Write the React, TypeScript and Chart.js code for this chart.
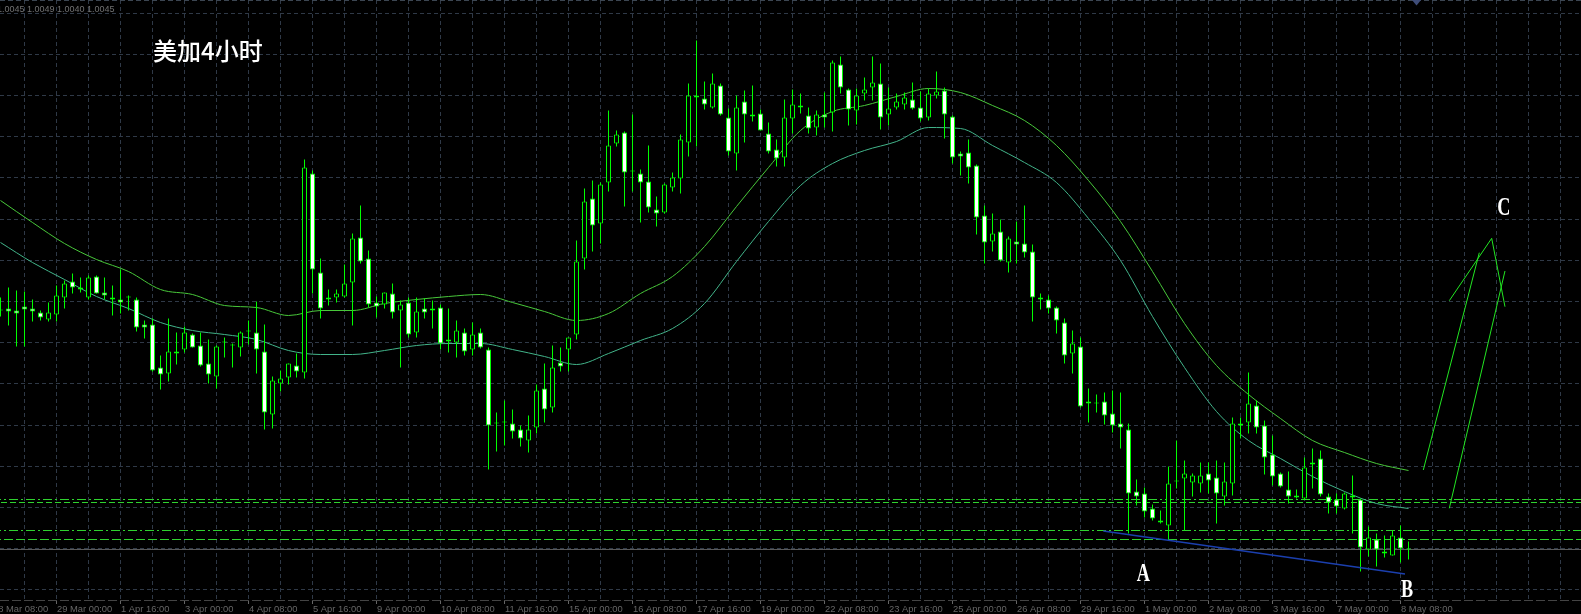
import React, { useEffect, useRef } from "react";
import { Chart, registerables } from "chart.js";

Chart.register(...registerables);

// ---------- DATA (USDCAD 4H) ----------
const openP = [
  1.01645,1.01655,1.01645,1.01665,1.01655,1.01635,1.016,1.01625,1.0171,1.0179,
  1.0176,1.0171,1.01815,1.01735,1.0171,1.017,1.0171,1.017,1.01575,1.01575,
  1.0136,1.0133,1.0144,1.0145,1.01525,1.0147,1.0138,1.01315,1.01485,1.0147,
  1.0146,1.01545,1.01535,1.0144,1.01125,1.0128,1.0131,1.0137,1.01335,1.0233,
  1.01835,1.0171,1.0171,1.01715,1.01785,1.0201,1.01905,1.01685,1.01675,1.0173,
  1.01645,1.01685,1.01535,1.01655,1.01655,1.0166,1.015,1.01485,1.01535,1.0145,
  1.01535,1.0145,1.0108,1.01085,1.0108,1.0105,1.00995,1.0106,1.01255,1.0116,
  1.01385,1.0145,1.01525,1.01905,1.02205,1.0208,1.02285,1.0248,1.02535,1.0234,
  1.0233,1.0229,1.0215,1.02135,1.0226,1.02305,1.02485,1.0272,1.02705,1.0266,
  1.0277,1.0261,1.0243,1.0269,1.02625,1.0263,1.0253,1.0245,1.0241,1.02605,
  1.0267,1.0262,1.0256,1.02625,1.02635,1.02875,1.0275,1.02645,1.0273,1.0276,
  1.0278,1.02625,1.0266,1.02675,1.027,1.0266,1.0261,1.0272,1.02745,1.02615,
  1.0243,1.02435,1.0237,1.0212,1.0199,1.0204,1.01885,1.0199,1.0198,1.0194,
  1.0171,1.017,1.0166,1.01585,1.0143,1.01465,1.0119,1.0118,1.0119,1.0113,
  1.0108,1.0105,1.0074,1.0073,1.00655,1.00595,1.0057,1.0079,1.00805,1.00785,
  1.0078,1.0083,1.0081,1.00715,1.0078,1.0108,1.01085,1.0117,1.0107,1.00925,
  1.0083,1.0075,1.0072,1.00705,1.00885,1.00905,1.00715,1.007,1.00655,1.0072,
  1.007,1.0045,1.005,1.0044,1.0042,1.0051,1.0045,
];
const highP = [
  1.0171,1.0176,1.01745,1.0174,1.017,1.01645,1.01685,1.0177,1.01795,1.0183,
  1.0181,1.0182,1.0182,1.0181,1.0177,1.0185,1.0172,1.0171,1.01595,1.01605,
  1.0142,1.01605,1.01535,1.01565,1.0153,1.01535,1.015,1.0147,1.0151,1.0148,
  1.0154,1.01595,1.0169,1.01575,1.01315,1.01345,1.0138,1.0143,1.024,1.02345,
  1.01905,1.0175,1.0175,1.01875,1.0203,1.0217,1.01945,1.01715,1.01735,1.0178,
  1.01695,1.0171,1.0171,1.01705,1.01695,1.01675,1.01655,1.01595,1.01555,1.01585,
  1.01555,1.0146,1.01135,1.01195,1.0115,1.0107,1.0112,1.01275,1.0138,1.0147,
  1.0146,1.0151,1.01995,1.02255,1.02295,1.02285,1.02645,1.02545,1.0254,1.02625,
  1.0235,1.0247,1.02215,1.0228,1.02335,1.02525,1.0278,1.02995,1.0279,1.0283,
  1.0278,1.02655,1.0272,1.02745,1.0277,1.0265,1.02585,1.025,1.027,1.0275,
  1.0273,1.0266,1.02645,1.02735,1.02895,1.02915,1.02755,1.02755,1.0281,1.02915,
  1.0288,1.0276,1.0273,1.02735,1.02785,1.0274,1.02755,1.0284,1.0276,1.0262,
  1.0244,1.025,1.02375,1.0217,1.0213,1.021,1.02015,1.0209,1.0217,1.01975,
  1.0173,1.0172,1.01665,1.01605,1.01545,1.0151,1.01255,1.01225,1.01235,1.01245,
  1.01235,1.0108,1.008,1.0076,1.00675,1.00645,1.00865,1.00995,1.00895,1.0083,
  1.00885,1.00885,1.00895,1.00885,1.0111,1.0111,1.01335,1.01195,1.01095,1.0102,
  1.00835,1.0084,1.0075,1.0091,1.00955,1.00945,1.0073,1.0073,1.00735,1.0082,
  1.00705,1.00565,1.0053,1.0052,1.00545,1.0057,1.0049,
];
const lowP = [
  1.01615,1.0157,1.01465,1.01465,1.0159,1.01595,1.0159,1.0159,1.01655,1.0173,
  1.01735,1.017,1.0173,1.017,1.0162,1.0163,1.01645,1.0154,1.01505,1.0134,
  1.0125,1.0129,1.01375,1.01435,1.0146,1.01365,1.0128,1.01255,1.0141,1.0136,
  1.01415,1.01475,1.0133,1.0105,1.01055,1.0124,1.01275,1.0131,1.01305,1.0173,
  1.01605,1.0167,1.01685,1.0171,1.0157,1.0188,1.0166,1.0161,1.01655,1.01605,
  1.0136,1.0151,1.0151,1.01605,1.01555,1.0145,1.01435,1.0141,1.0142,1.0142,
  1.01455,1.0085,1.0094,1.0097,1.01005,1.00965,1.00935,1.0103,1.01085,1.01135,
  1.0134,1.0134,1.015,1.0185,1.0194,1.0198,1.0224,1.02465,1.02165,1.0224,
  1.02085,1.02135,1.02065,1.0213,1.0224,1.0223,1.02415,1.02465,1.0265,1.02655,
  1.0262,1.0242,1.02345,1.02485,1.0259,1.02545,1.0243,1.02365,1.02365,1.0253,
  1.0263,1.0253,1.0252,1.0256,1.0254,1.0273,1.0257,1.02575,1.02695,1.02695,
  1.0255,1.0257,1.0265,1.0265,1.0265,1.0259,1.02595,1.02705,1.02505,1.0238,
  1.0232,1.0228,1.02025,1.0188,1.0194,1.0189,1.01835,1.0188,1.0191,1.0159,
  1.0165,1.0163,1.0153,1.0138,1.0133,1.0116,1.01085,1.01135,1.01075,1.01035,
  1.00955,1.0053,1.0067,1.0061,1.00595,1.0058,1.00495,1.00755,1.00545,1.00715,
  1.00735,1.0073,1.0058,1.0067,1.0072,1.01005,1.0103,1.0103,1.00825,1.0077,
  1.0076,1.0068,1.00705,1.007,1.00755,1.00715,1.0063,1.0063,1.0065,1.0053,
  1.0034,1.00415,1.00365,1.0041,1.0042,1.00385,1.004,
];
const closeP = [
  1.01645,1.0164,1.0163,1.0165,1.0164,1.0161,1.01635,1.0172,1.0178,1.0176,
  1.0175,1.0181,1.0173,1.0172,1.017,1.01685,1.0171,1.0156,1.0156,1.01345,
  1.01325,1.0144,1.0143,1.01535,1.0146,1.0137,1.01325,1.01465,1.01485,1.0147,
  1.01535,1.0154,1.0145,1.01135,1.01295,1.01305,1.0138,1.0134,1.0236,1.0185,
  1.01655,1.017,1.0173,1.0178,1.02005,1.0189,1.01675,1.01665,1.01735,1.01635,
  1.01675,1.01525,1.0164,1.01635,1.01645,1.0148,1.0149,1.01545,1.0144,1.01525,
  1.0146,1.0107,1.0108,1.01085,1.0104,1.01005,1.0105,1.01245,1.0115,1.0136,
  1.01365,1.0151,1.0189,1.0219,1.0207,1.02275,1.0247,1.02525,1.02335,1.0234,
  1.02285,1.0216,1.0213,1.02275,1.0231,1.025,1.0272,1.0271,1.02675,1.0278,
  1.02625,1.0244,1.0266,1.02625,1.02615,1.02545,1.0244,1.02405,1.0261,1.02675,
  1.0266,1.02555,1.02625,1.0261,1.02885,1.0276,1.0265,1.0272,1.0275,1.02785,
  1.0261,1.02655,1.0269,1.0271,1.02655,1.02605,1.0273,1.0274,1.02625,1.0241,
  1.02415,1.0236,1.0211,1.01985,1.0203,1.01895,1.02005,1.01975,1.01935,1.0171,
  1.017,1.01655,1.01595,1.0142,1.0148,1.01165,1.0118,1.0118,1.0112,1.0107,
  1.0106,1.0073,1.00715,1.0064,1.00605,1.00585,1.0078,1.0079,1.0083,1.0082,
  1.0082,1.00795,1.0073,1.0079,1.0108,1.0107,1.0118,1.0106,1.0091,1.00815,
  1.00765,1.00715,1.0071,1.0086,1.00875,1.00725,1.00685,1.00665,1.0073,1.0071,
  1.0046,1.0051,1.0045,1.0043,1.0052,1.00455,1.0045,
];

// moving averages, read every 4 bars
const maBars = [0,4,8,12,16,20,24,28,32,36,40,44,48,52,56,60,64,68,72,76,80,84,88,92,96,100,104,108,112,116,120,124,128,132,136,140,144,148,152,156,160,164,168,172,176];
const maUpper = [
  1.02195,1.02085,1.0198,1.019,1.0184,1.0175,1.01725,1.0167,1.0166,1.0162,
  1.01645,1.01645,1.0168,1.017,1.01715,1.01725,1.01685,1.0164,1.01595,1.0163,
  1.0173,1.01815,1.01965,1.02165,1.0236,1.02545,1.0264,1.0267,1.02715,1.02755,
  1.02735,1.0267,1.02595,1.0247,1.02295,1.0209,1.0184,1.0158,1.0137,1.01225,
  1.01105,1.00995,1.00935,1.0088,1.00845,
];
const maLower = [
  1.01985,1.01885,1.018,1.01715,1.01655,1.01585,1.01545,1.01525,1.015,1.01445,
  1.01425,1.01425,1.01445,1.0147,1.0148,1.0148,1.0145,1.01415,1.01375,1.0143,
  1.01495,1.01555,1.0168,1.0189,1.0209,1.0227,1.0238,1.02445,1.0249,1.0256,
  1.02555,1.0247,1.02385,1.02285,1.02105,1.01895,1.01615,1.0136,1.0114,1.00995,
  1.00905,1.00815,1.0074,1.0068,1.00655,
];

// horizontal grid prices and time axis labels
const gridPrices = [1.031325,1.029265,1.027205,1.025145,1.023085,1.021025,1.018965,1.016905,1.014845,1.012785,1.010725,1.008665,1.006605,1.004545,1.002485];
const timeLabelBars = [-1,7,15,23,31,39,47,55,63,71,79,87,95,103,111,119,127,135,143,151,159,167,175];
const timeLabels = [
  "28 Mar 08:00","29 Mar 00:00","1 Apr 16:00","3 Apr 00:00","4 Apr 08:00","5 Apr 16:00",
  "9 Apr 00:00","10 Apr 08:00","11 Apr 16:00","15 Apr 00:00","16 Apr 08:00","17 Apr 16:00",
  "19 Apr 00:00","22 Apr 08:00","23 Apr 16:00","25 Apr 00:00","26 Apr 08:00","29 Apr 16:00",
  "1 May 00:00","2 May 08:00","3 May 16:00","7 May 00:00","8 May 08:00",
];

// objects on the chart
const bidPrice = 1.0045;
const levelPrices = [1.007, 1.00685, 1.00545, 1.005];
const levelDash = [[9, 3, 2, 3], [6, 3], [9, 3, 2, 3], [9, 3]];
const trendAB = [{ x: 137.85, y: 1.005425 }, { x: 175.56, y: 1.003275 }];
const projSegments = [
  [{ x: 177.85, y: 1.008475 }, { x: 184.85, y: 1.01934 }],
  [{ x: 181.1, y: 1.01694 }, { x: 186.4, y: 1.02006 }],
  [{ x: 186.4, y: 1.02006 }, { x: 188.06, y: 1.01664 }],
  [{ x: 181.1, y: 1.00656 }, { x: 188.06, y: 1.018425 }],
];
const letterMarks = [
  { text: "A", bar: 142.85, price: 1.00294 },
  { text: "B", bar: 175.83, price: 1.00214 },
  { text: "C", bar: 187.9, price: 1.02125 },
];
const titleMark = { text: "美加4小时", bar: 19.06, price: 1.02898 };

// ---------- STYLE ----------
const W = 1581;
const H = 614;
const X_MIN = -0.0625;
const X_MAX = X_MIN + W / 8;
const Y_MAX = 1.031975;
const Y_MIN = Y_MAX - 601 / 20000;
const GRID = "#2f3947";
const LIME = "#00ff00";

const overlay = {
  id: "overlay",
  afterDatasetsDraw(chart: any) {
    const { ctx } = chart;
    const xs = chart.scales.x;
    const ys = chart.scales.y;
    ctx.save();
    // title
    ctx.fillStyle = "#ffffff";
    ctx.font = '500 24px "Noto Sans CJK SC"';
    ctx.textAlign = "left";
    ctx.textBaseline = "alphabetic";
    ctx.fillText(titleMark.text, xs.getPixelForValue(titleMark.bar), ys.getPixelForValue(titleMark.price));
    // letters
    ctx.font = 'bold 26px "Liberation Serif"';
    ctx.textAlign = "center";
    for (const m of letterMarks) {
      ctx.save();
      ctx.translate(xs.getPixelForValue(m.bar), ys.getPixelForValue(m.price));
      ctx.scale(0.7, 1);
      ctx.fillText(m.text, 0, 0);
      ctx.restore();
    }
    ctx.restore();
  },
  afterDraw(chart: any) {
    const { ctx, chartArea } = chart;
    const xs = chart.scales.x;
    ctx.save();
    // top & bottom borders
    ctx.strokeStyle = "#3c4652";
    ctx.lineWidth = 1;
    ctx.setLineDash([5, 3]);
    ctx.beginPath();
    ctx.moveTo(0, 0.5);
    ctx.lineTo(W, 0.5);
    ctx.stroke();
    ctx.strokeStyle = "#444444";
    ctx.setLineDash([9, 3]);
    ctx.beginPath();
    ctx.moveTo(0, chartArea.bottom - 0.5);
    ctx.lineTo(W, chartArea.bottom - 0.5);
    ctx.stroke();
    ctx.setLineDash([]);
    // time labels
    ctx.font = '9.4px "Liberation Sans"';
    ctx.fillStyle = "#666666";
    ctx.textAlign = "left";
    ctx.textBaseline = "middle";
    timeLabelBars.forEach((b, i) => {
      const px = xs.getPixelForValue(b);
      ctx.fillRect(Math.floor(px), chartArea.bottom, 1, 3);
      ctx.fillText(timeLabels[i], px + 0.5, chartArea.bottom + 8);
    });
    // header: OHLC of last bar
    const last = openP.length - 1;
    const header = [openP[last], highP[last], lowP[last], closeP[last]].map((v) => v.toFixed(4)).join(" ");
    ctx.font = '9px "Liberation Sans"';
    ctx.fillStyle = "#727272";
    ctx.textBaseline = "alphabetic";
    ctx.fillText(header, -3, 12);
    // shift marker
    const sx = xs.getPixelForValue(openP.length);
    ctx.fillStyle = "#3e4c78";
    ctx.beginPath();
    ctx.moveTo(sx - 4.5, 0);
    ctx.lineTo(sx + 4.5, 0);
    ctx.lineTo(sx, 5.5);
    ctx.closePath();
    ctx.fill();
    ctx.restore();
  },
};

export default function App() {
  const ref = useRef<HTMLCanvasElement | null>(null);
  useEffect(() => {
    document.body.style.margin = "0";
    document.body.style.background = "#000";
    const canvas = ref.current;
    if (!canvas) return;

    const wickData = highP.map((h, i) => ({ x: i, y: [lowP[i], h] }));
    const bodyData = openP.map((o, i) => ({ x: i, y: [o, closeP[i]] }));
    const bodyFill = openP.map((o, i) => (closeP[i] < o ? "#ffffff" : "#000000"));

    const lineDs = (data: any[], color: string, width: number, order: number, dash: number[] = []) => ({
      type: "line",
      data,
      borderColor: color,
      borderWidth: width,
      borderDash: dash,
      pointRadius: 0,
      fill: false,
      tension: 0,
      order,
    });

    const datasets: any[] = [
      lineDs([{ x: X_MIN - 1, y: bidPrice }, { x: X_MAX + 1, y: bidPrice }], "#5a5a5a", 1, 9),
      ...levelPrices.map((p, i) =>
        lineDs([{ x: X_MIN - 1, y: p }, { x: X_MAX + 1, y: p }], "#2fd22f", 1, 8, levelDash[i])
      ),
      {
        ...lineDs(maBars.map((b, i) => ({ x: b, y: maUpper[i] })), "#48c83a", 1, 7),
        cubicInterpolationMode: "monotone",
      },
      {
        ...lineDs(maBars.map((b, i) => ({ x: b, y: maLower[i] })), "#42b48a", 1, 7),
        cubicInterpolationMode: "monotone",
      },
      {
        type: "bar",
        data: wickData,
        backgroundColor: LIME,
        borderWidth: 0,
        grouped: false,
        barThickness: 1,
        maxBarThickness: 1,
        inflateAmount: 0,
        order: 5,
      },
      {
        type: "bar",
        data: bodyData,
        backgroundColor: bodyFill,
        borderColor: LIME,
        borderWidth: 1,
        borderSkipped: false,
        grouped: false,
        barThickness: 5,
        maxBarThickness: 5,
        minBarLength: 1,
        inflateAmount: 0,
        order: 4,
      },
      lineDs(trendAB, "#1b3fae", 1.5, 2),
      ...projSegments.map((s) => lineDs(s, "#22e622", 1, 1)),
    ];

    const chart = new Chart(canvas, {
      type: "bar",
      data: { datasets },
      options: {
        responsive: false,
        animation: false,
        devicePixelRatio: 1,
        events: [],
        layout: { padding: { left: 0, right: 0, top: 0, bottom: 13 } },
        plugins: { legend: { display: false }, tooltip: { enabled: false } },
        scales: {
          x: {
            type: "linear",
            min: X_MIN,
            max: X_MAX,
            offset: false,
            afterBuildTicks: (s: any) => {
              const t: any[] = [];
              for (let b = 3; b < X_MAX; b += 4) t.push({ value: b });
              s.ticks = t;
            },
            ticks: { display: false },
            grid: { color: GRID, lineWidth: 1, drawTicks: false, offset: false },
            border: { display: false, dash: [4, 3] },
          },
          y: {
            type: "linear",
            position: "right",
            min: Y_MIN,
            max: Y_MAX,
            afterBuildTicks: (s: any) => {
              s.ticks = gridPrices.map((v) => ({ value: v }));
            },
            ticks: { display: false },
            grid: { color: GRID, lineWidth: 1, drawTicks: false },
            border: { display: false, dash: [4, 3] },
          },
        },
      } as any,
      plugins: [overlay],
    } as any);
    return () => chart.destroy();
  }, []);

  return (
    <div style={{ width: W, height: H, background: "#000" }}>
      <canvas ref={ref} width={W} height={H} style={{ display: "block" }} />
    </div>
  );
}
